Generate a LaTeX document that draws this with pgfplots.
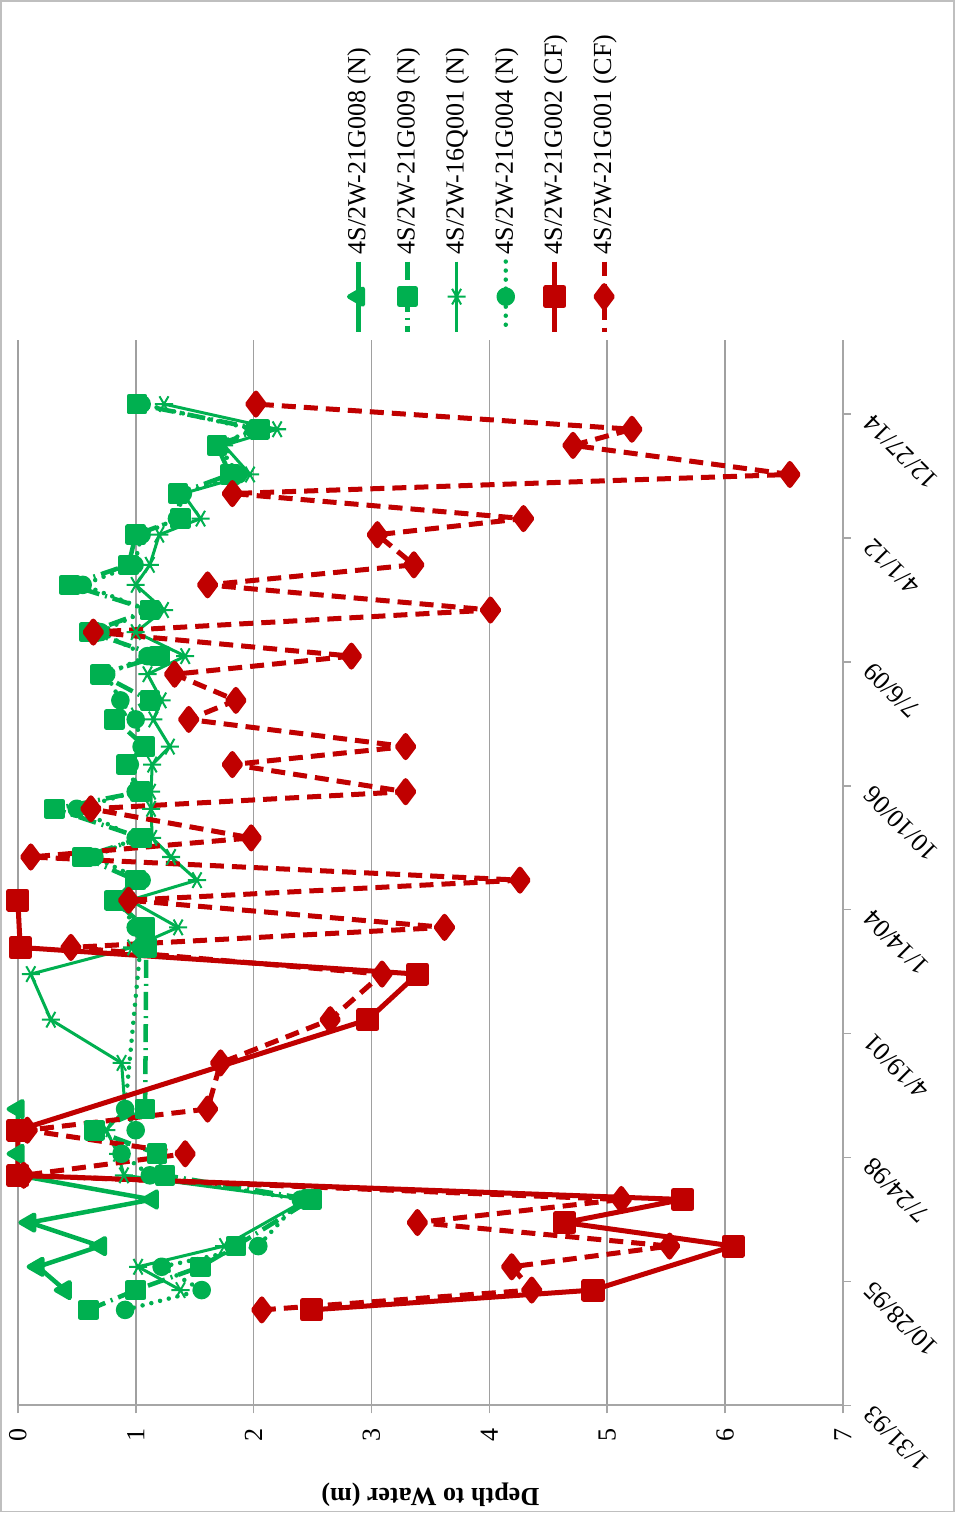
\documentclass[border=0pt]{standalone}
\usepackage{fontspec}
\setmainfont{Liberation Serif}
\usepackage{pgfplots}
\pgfplotsset{compat=1.18}
\definecolor{xlgreen}{HTML}{00B050}
\definecolor{xlred}{HTML}{C00000}
\definecolor{gridgray}{HTML}{A0A0A0}
\definecolor{axisgray}{HTML}{A6A6A6}
% chart is drawn as it appears (turned): x = depth to water (m), y = days since 1/31/93
\begin{document}
\begin{tikzpicture}
\begin{axis}[
  at={(0,0)}, anchor=south west,
  scale only axis, width=411.5pt, height=531.5pt,
  xmin=0, xmax=7, ymin=0, ymax=8600,
  axis x line*=bottom, axis y line*=right,
  axis line style={draw=axisgray, line width=1pt},
  xtick={0,...,7}, ytick={0,1000,...,8000},
  yticklabels={1/31/93,10/28/95,7/24/98,4/19/01,1/14/04,10/10/06,7/6/09,4/1/12,12/27/14},
  xmajorgrids, grid style={gridgray, line width=0.8pt},
  tick align=outside, major tick length=4pt,
  tick style={axisgray, line width=0.8pt},
  clip=false,
  /pgf/number format/assume math mode=true,
  tick label style={font=\fontsize{13}{15}\selectfont},
  xticklabel style={rotate=90, anchor=east},
  xticklabel shift=4pt,
  yticklabel style={rotate=135, anchor=east},
  yticklabel shift=6pt,
  xlabel={Depth to Water (m)},
  xlabel style={at={(axis description cs:0.5,-0.0837)}, anchor=center, rotate=180,
    font=\bfseries\fontsize{13}{15}\selectfont},
  legend columns=6,
  legend style={draw=none, fill=none, at={(axis description cs:0.561,1.183)}, anchor=center,
    font=\fontsize{13}{15}\selectfont, nodes={rotate=90, inner sep=1.5pt},
    /tikz/every odd column/.append style={column sep=0pt},
    /tikz/every even column/.append style={column sep=11pt}},
  legend cell align=left,
  legend image code/.code={\draw[overlay,mark repeat=2,mark phase=2,#1] plot coordinates {(7pt,-2pt) (7pt,-19.5pt) (7pt,-37pt)};},
  every axis plot/.append style={line join=round},
]
% 4S/2W-21G008 (N)
\addplot[xlgreen, line width=2.25pt, mark=triangle*, mark size=4.5pt, mark options={rotate=90, solid}]
  coordinates {(0.40,930)(0.17,1118)(0.70,1285)(0.10,1475)(1.14,1661)(0.0,1856)(0.0,2030)(0.0,2391)};
\addlegendentry{4S/2W-21G008 (N)}
% 4S/2W-21G009 (N)
\addplot[xlgreen, line width=2.25pt, dash pattern=on 9pt off 3pt on 1pt off 3pt, mark=square*, mark size=4pt, mark options={solid}]
  coordinates {(0.60,770)(1.00,930)(1.55,1118)(1.85,1285)(2.49,1661)(1.25,1856)(1.18,2030)(0.65,2220)(1.08,2391)
  (1.09,3695)(1.08,3857)(0.82,4076)(1.00,4238)(0.55,4425)(1.05,4579)(0.31,4814)(1.04,4952)(0.92,5171)(1.08,5316)
  (0.82,5535)(1.12,5689)(0.70,5900)(1.20,6046)(0.61,6240)(1.12,6418)(0.44,6621)(0.94,6783)(1.00,7026)(1.38,7156)
  (1.36,7358)(1.80,7512)(1.69,7747)(2.05,7877)(1.01,8080)};
\addlegendentry{4S/2W-21G009 (N)}
% 4S/2W-16Q001 (N)
\addplot[xlgreen, line width=1.5pt, mark=asterisk, mark size=4.5pt, mark options={rotate=90, solid, line width=1pt}]
  coordinates {(1.38,930)(1.02,1118)(1.75,1285)(2.45,1661)(0.90,1856)(0.85,2030)(0.75,2220)(0.91,2391)(0.88,2763)
  (0.28,3112)(0.11,3480)(0.97,3695)(1.36,3857)(0.95,4076)(1.52,4238)(1.30,4425)(1.14,4579)(1.13,4814)(1.13,4952)
  (1.14,5171)(1.29,5316)(1.15,5535)(1.22,5689)(1.10,5900)(1.42,6046)(1.00,6240)(1.24,6418)(1.00,6621)(1.12,6783)
  (1.20,7026)(1.55,7156)(1.40,7358)(1.97,7512)(1.75,7747)(2.20,7877)(1.24,8080)};
\addlegendentry{4S/2W-16Q001 (N)}
% 4S/2W-21G004 (N)
\addplot[xlgreen, line width=2.25pt, line cap=round, dash pattern=on 0pt off 4.5pt, mark=*, mark size=3.5pt, mark options={solid}]
  coordinates {(0.91,770)(1.56,930)(1.22,1118)(2.04,1285)(2.40,1661)(1.12,1856)(0.88,2030)(1.00,2220)(0.91,2391)
  (1.04,3695)(1.00,3857)(0.85,4076)(1.05,4238)(0.65,4425)(1.00,4579)(0.50,4814)(1.00,4952)(0.95,5171)(1.05,5316)
  (1.00,5535)(0.87,5689)(0.75,5900)(1.10,6046)(0.70,6240)(1.10,6418)(0.55,6621)(0.99,6783)(1.05,7026)(1.35,7156)
  (1.40,7358)(1.87,7512)(1.70,7747)(2.00,7877)(1.05,8080)};
\addlegendentry{4S/2W-21G004 (N)}
% 4S/2W-21G002 (CF)
\addplot[xlred, line width=2.5pt, mark=square*, mark size=4.5pt, mark options={solid}]
  coordinates {(2.49,770)(4.88,930)(6.07,1285)(4.64,1475)(5.64,1661)(0.0,1856)(0.0,2220)(2.97,3112)(3.39,3480)
  (0.02,3695)(0.0,4076)};
\addlegendentry{4S/2W-21G002 (CF)}
% 4S/2W-21G001 (CF)
\addplot[xlred, line width=2.5pt, dash pattern=on 7pt off 4pt, mark=diamond*, mark size=5.5pt, mark options={solid}]
  coordinates {(2.07,770)(4.36,930)(4.19,1118)(5.53,1285)(3.39,1475)(5.12,1661)(0.05,1856)(1.42,2030)(0.08,2220)
  (1.61,2391)(1.72,2763)(2.65,3112)(3.09,3480)(0.45,3695)(3.62,3857)(0.94,4076)(4.26,4238)(0.11,4425)(1.98,4579)
  (0.62,4814)(3.29,4952)(1.82,5171)(3.29,5316)(1.45,5535)(1.85,5689)(1.33,5900)(2.83,6046)(0.64,6240)(4.01,6418)
  (1.61,6621)(3.36,6783)(3.05,7026)(4.29,7156)(1.82,7358)(6.55,7512)(4.71,7747)(5.21,7877)(2.02,8080)};
\addlegendentry{4S/2W-21G001 (CF)}
\end{axis}
\draw[gray!50, line width=0.8pt] (-8.5pt,-53pt) rectangle (467pt,700.5pt);
\end{tikzpicture}
\end{document}
